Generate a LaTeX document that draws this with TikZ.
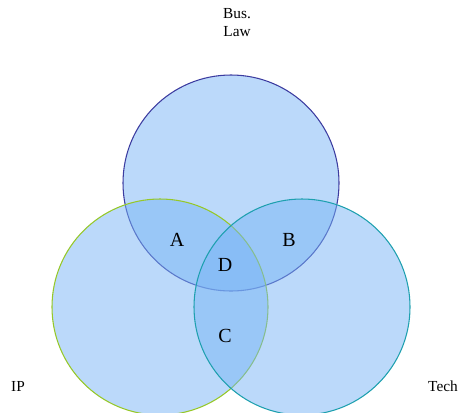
\documentclass[tikz,border=0pt]{standalone}
\usepackage{fontspec}
\setmainfont{Liberation Serif}
\definecolor{cfill}{RGB}{120,180,245}
\definecolor{ctop}{RGB}{60,60,160}
\definecolor{cleft}{RGB}{150,200,40}
\definecolor{cright}{RGB}{30,160,175}
\begin{document}
\begin{tikzpicture}[x=0.75pt,y=-0.75pt,
  venn/.style={fill=cfill,fill opacity=0.5,line width=0.8pt},
  lab/.style={font=\fontsize{11.5}{13.5}\selectfont,align=center,text=black},
  reg/.style={font=\fontsize{15}{16}\selectfont,text=black}]
\useasboundingbox (0,0) rectangle (459,412);
\begin{scope}
\clip (0,0) rectangle (459,412);
\path[venn,draw=ctop] (231,183) circle[radius=108];
\path[venn,draw=cleft] (160,307) circle[radius=108];
\path[venn,draw=cright] (302,307) circle[radius=108];
\end{scope}
\node[lab] (bus) at (237,23) {Bus.\\Law};
\node[lab] (ip) at (18,386) {IP};
\node[lab] (tech) at (443,386) {Tech};
\node[reg] (a) at (177,240) {A};
\node[reg] (b) at (289,240) {B};
\node[reg] (d) at (225,265) {D};
\node[reg] (c) at (225,336) {C};
\end{tikzpicture}
\end{document}
